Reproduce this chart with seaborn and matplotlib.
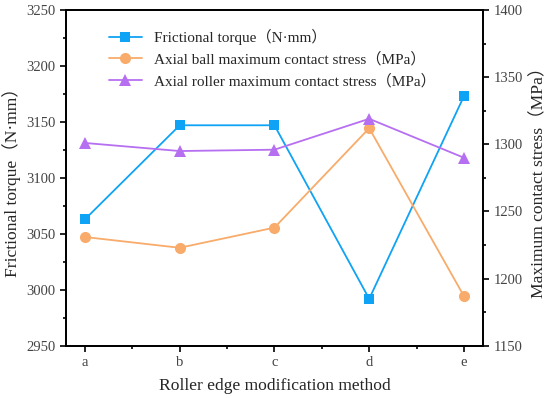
import pandas as pd
import seaborn as sns
import matplotlib.pyplot as plt
from matplotlib.ticker import AutoMinorLocator, MultipleLocator

# chart values
methods = ["a", "b", "c", "d", "e"]
torque = [3063, 3147, 3147, 2992, 3173]
ball_stress = [1231, 1223, 1238, 1312, 1187]
roller_stress = [1301, 1295, 1296, 1319, 1290]

sns.set_style("ticks")
plt.rcParams["font.family"] = ["Liberation Serif", "Noto Sans CJK SC"]
plt.rcParams["axes.linewidth"] = 1.3
plt.rcParams["axes.edgecolor"] = "black"
plt.rcParams["xtick.color"] = "black"
plt.rcParams["ytick.color"] = "black"

df = pd.DataFrame({"x": range(len(methods)), "torque": torque,
                   "ball": ball_stress, "roller": roller_stress})

blue = "#0fa3f5"
orange = "#f8ab6a"
purple = "#b76ff2"

fig = plt.figure(figsize=(5.5, 3.98), dpi=100)
ax = fig.add_axes([0.12, 0.131, 0.758, 0.844])
ax2 = ax.twinx()

sns.lineplot(data=df, x="x", y="torque", ax=ax, color=blue, marker="s",
             markersize=7, markeredgewidth=0, linewidth=1.3,
             label="Frictional torque（N·mm）", legend=False)
sns.lineplot(data=df, x="x", y="ball", ax=ax2, color=orange, marker="o",
             markersize=8, markeredgewidth=0, linewidth=1.3,
             label="Axial ball maximum contact stress（MPa）", legend=False)
sns.lineplot(data=df, x="x", y="roller", ax=ax2, color=purple, marker="^",
             markersize=8.5, markeredgewidth=0, linewidth=1.3,
             label="Axial roller maximum contact stress（MPa）", legend=False)

ax.set_xlim(-0.2, 4.2)
ax.set_ylim(2950, 3250)
ax2.set_ylim(1150, 1400)
ax.set_xticks(range(len(methods)))
ax.set_xticklabels(methods)
ax.xaxis.set_minor_locator(MultipleLocator(0.5))
ax.yaxis.set_major_locator(MultipleLocator(50))
ax.yaxis.set_minor_locator(AutoMinorLocator(2))
ax2.yaxis.set_major_locator(MultipleLocator(50))
ax2.yaxis.set_minor_locator(AutoMinorLocator(2))

for a in (ax, ax2):
    a.tick_params(which="major", direction="out", length=4, width=1.2,
                  labelsize=10.5, labelcolor="#444444")
    a.tick_params(which="minor", direction="out", length=2.5, width=1.2)
    for s in a.spines.values():
        s.set_visible(True)
        s.set_linewidth(1.3)
        s.set_color("black")

ax.set_xlabel("Roller edge modification method", fontsize=12.6, labelpad=6)
ax.set_ylabel("Frictional torque（N·mm）", fontsize=12.6, labelpad=4)
ax2.set_ylabel("Maximum contact stress（MPa）", fontsize=12.6, labelpad=6)

h1, l1 = ax.get_legend_handles_labels()
h2, l2 = ax2.get_legend_handles_labels()
ax.legend(h1 + h2, l1 + l2, loc="upper left", bbox_to_anchor=(0.08, 0.97),
          frameon=False, fontsize=11, handlelength=2.2, labelspacing=0.45,
          borderaxespad=0.2)

fig.savefig("out.png", dpi=100)
